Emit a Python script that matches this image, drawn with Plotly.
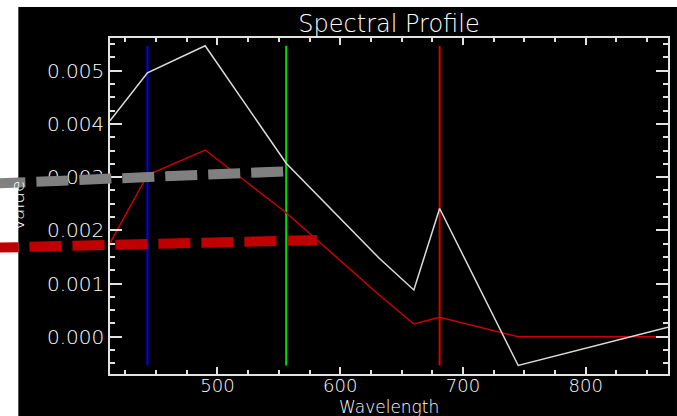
import plotly.graph_objects as go

# ---- data ----
wavelength = [412.5, 443, 490, 556, 632, 660, 681, 745, 867]
profile_white = [0.00406, 0.00496, 0.00547, 0.00326, 0.00147, 0.00088, 0.00241, -0.00054, 0.00018]
profile_red = [0.00176, 0.00304, 0.00351, 0.00233, 0.00078, 0.00024, 0.000365, 0.0, 0.0]

band_markers = [443, 556, 681]
band_colors = ["#0000ff", "#00dd00", "#dd0000"]

x_ticks = [500, 600, 700, 800]
y_ticks = [0.000, 0.001, 0.002, 0.003, 0.004, 0.005]

# overlay dashed strokes (start at the figure's left edge, end at a data x)
overlay_gray = {"x_end": 556, "y_start": 0.00288, "y_end": 0.00311}
overlay_red = {"x_end": 581, "y_start": 0.00167, "y_end": 0.00182}

# ---- layout geometry ----
W, H = 677, 416
ML, MR, MT, MB = 110, 7, 38, 42
PW, PH = W - ML - MR, H - MT - MB
XR = [412.5, 867]
YR = [-0.0007, 0.005615]
FG = "#e2e2e2"
TXT = "#ffffff"
FONT = "DejaVu Sans"
WEIGHT = 200


def px_x(px):
    return (px - ML) / PW


def px_y(py):
    return (H - MB - py) / PH


def dx(v):
    return (v - XR[0]) / (XR[1] - XR[0])


def dy(v):
    return (v - YR[0]) / (YR[1] - YR[0])


fig = go.Figure()

for xv, col in zip(band_markers, band_colors):
    fig.add_trace(go.Scatter(x=[xv, xv], y=[min(profile_white), max(profile_white)],
                             mode="lines", line=dict(color=col, width=2),
                             showlegend=False, hoverinfo="skip"))

fig.add_trace(go.Scatter(x=wavelength, y=profile_red, mode="lines",
                         line=dict(color="#cc0000", width=1.5), showlegend=False))
fig.add_trace(go.Scatter(x=wavelength, y=profile_white, mode="lines",
                         line=dict(color="#dcdcdc", width=1.5), showlegend=False))

shapes = [
    dict(type="rect", xref="paper", yref="paper", layer="below",
         x0=px_x(18), x1=px_x(W + 2), y0=px_y(H + 2), y1=px_y(7),
         fillcolor="black", line=dict(width=0)),
]
for ov, col, start_px in [(overlay_gray, "#808080", -7), (overlay_red, "#c00000", -14)]:
    shapes.append(dict(type="line", xref="paper", yref="paper", layer="above",
                       x0=px_x(start_px), x1=dx(ov["x_end"]),
                       y0=dy(ov["y_start"]), y1=dy(ov["y_end"]),
                       line=dict(color=col, width=10, dash="32px,11px")))

axis_common = dict(showline=True, linecolor=FG, linewidth=1.5, mirror="ticks",
                   ticks="inside", tickcolor=FG, tickwidth=1.5,
                   showgrid=False, zeroline=False)

fig.update_layout(
    width=W, height=H,
    margin=dict(l=ML, r=MR, t=MT, b=MB, pad=0),
    paper_bgcolor="white", plot_bgcolor="black",
    showlegend=False,
    title=dict(text="Spectral Profile", x=0.5, xref="paper", xanchor="center",
               y=1 - 23.7 / H, yref="container", yanchor="middle",
               font=dict(family=FONT, size=24, color=TXT, weight=WEIGHT)),
    xaxis=dict(range=XR, tickvals=x_ticks, ticklen=7, ticklabelstandoff=-5,
               tickfont=dict(family=FONT, size=18, color=TXT, weight=WEIGHT),
               minor=dict(dtick=25, tick0=400, ticklen=4, ticks="inside",
                          tickcolor=FG, tickwidth=1.5, showgrid=False),
               **axis_common),
    yaxis=dict(range=YR, tickvals=y_ticks, tickformat=".3f", ticklen=12,
               tickfont=dict(family=FONT, size=20, color=TXT, weight=WEIGHT),
               minor=dict(dtick=0.00025, tick0=0, ticklen=5, ticks="inside",
                          tickcolor=FG, tickwidth=1.5, showgrid=False),
               **axis_common),
    shapes=shapes,
    annotations=[
        dict(text="Wavelength", xref="paper", yref="paper", x=0.5, y=px_y(406.5),
             xanchor="center", yanchor="middle", showarrow=False,
             font=dict(family=FONT, size=17, color=TXT, weight=WEIGHT)),
        dict(text="Value", xref="paper", yref="paper", x=px_x(17), y=px_y(206),
             xanchor="center", yanchor="middle", showarrow=False, textangle=-90,
             font=dict(family=FONT, size=18.5, color=TXT, weight=WEIGHT)),
    ],
)

fig.write_html("out.html")
